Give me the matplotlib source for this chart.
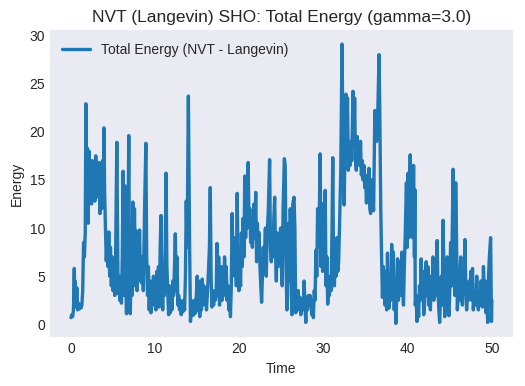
import matplotlib
matplotlib.use('Agg')
import matplotlib.pyplot as plt

# (time, energy)
tiempo = [
    0.0, 0.1, 0.2, 0.3, 0.4, 0.45, 0.5, 0.6, 0.7, 0.8, 0.9, 1.0, 1.1, 1.2, 1.3, 1.4, 1.5, 1.6, 1.7, 1.78,
    1.85, 1.95, 2.05, 2.15, 2.25, 2.35, 2.45, 2.55, 2.65, 2.75, 2.85, 2.95, 3.05, 3.15, 3.25, 3.35, 3.45,
    3.55, 3.65, 3.75, 3.85, 3.92, 4.0, 4.1, 4.2, 4.3, 4.4, 4.5, 4.6, 4.7, 4.8, 4.9, 5.0, 5.1, 5.2, 5.3,
    5.45, 5.55, 5.6, 5.7, 5.8, 5.9, 6.0, 6.1, 6.2, 6.3, 6.4, 6.5, 6.6, 6.7, 6.8, 6.87, 6.95, 7.05, 7.15,
    7.25, 7.35, 7.45, 7.55, 7.65, 7.75, 7.85, 7.95, 8.05, 8.15, 8.25, 8.4, 8.5, 8.6, 8.75, 8.9, 9.0, 9.1,
    9.2, 9.3, 9.4, 9.5, 9.6, 9.7, 9.8, 9.9, 10.0, 10.1, 10.2, 10.3, 10.4, 10.5, 10.6, 10.7, 10.8, 10.9,
    11.0, 11.1, 11.2, 11.3, 11.4, 11.5, 11.6, 11.7, 11.8, 11.9, 12.0, 12.1, 12.2, 12.3, 12.4, 12.5, 12.6,
    12.7, 12.8, 12.9, 13.0, 13.1, 13.2, 13.3, 13.4, 13.5, 13.6, 13.7, 13.8, 13.95, 14.05, 14.1, 14.2,
    14.3, 14.4, 14.5, 14.6, 14.7, 14.8, 14.9, 15.0, 15.1, 15.2, 15.3, 15.4, 15.5, 15.6, 15.7, 15.8, 15.9,
    16.0, 16.1, 16.2, 16.3, 16.45, 16.55, 16.65, 16.75, 16.85, 16.95, 17.05, 17.15, 17.25, 17.35, 17.45,
    17.55, 17.65, 17.75, 17.85, 17.95, 18.05, 18.15, 18.25, 18.35, 18.45, 18.55, 18.65, 18.75, 18.85,
    18.95, 19.05, 19.15, 19.25, 19.35, 19.45, 19.55, 19.65, 19.75, 19.85, 19.95, 20.05, 20.15, 20.25,
    20.35, 20.45, 20.55, 20.65, 20.75, 20.85, 20.95, 21.05, 21.15, 21.25, 21.35, 21.45, 21.55, 21.65,
    21.75, 21.85, 21.95, 22.05, 22.15, 22.25, 22.35, 22.45, 22.55, 22.65, 22.75, 22.85, 22.95, 23.1,
    23.2, 23.3, 23.45, 23.6, 23.7, 23.8, 23.9, 24.0, 24.1, 24.2, 24.3, 24.4, 24.5, 24.6, 24.7, 24.8, 24.9,
    25.0, 25.1, 25.2, 25.35, 25.45, 25.55, 25.65, 25.75, 25.85, 25.95, 26.05, 26.15, 26.25, 26.35, 26.5,
    26.6, 26.7, 26.8, 26.9, 27.0, 27.1, 27.2, 27.3, 27.4, 27.5, 27.6, 27.7, 27.8, 27.9, 28.0, 28.1, 28.2,
    28.3, 28.4, 28.5, 28.6, 28.7, 28.8, 28.9, 29.0, 29.1, 29.2, 29.3, 29.4, 29.5, 29.6, 29.7, 29.8, 29.9,
    30.0, 30.1, 30.2, 30.3, 30.4, 30.5, 30.6, 30.7, 30.8, 30.9, 31.0, 31.1, 31.2, 31.3, 31.4, 31.5, 31.6,
    31.7, 31.8, 31.9, 32.05, 32.2, 32.3, 32.35, 32.45, 32.55, 32.66, 32.75, 32.85, 32.95, 33.05, 33.15,
    33.25, 33.35, 33.5, 33.6, 33.7, 33.8, 33.9, 34.0, 34.1, 34.2, 34.3, 34.4, 34.5, 34.6, 34.7, 34.8,
    34.9, 35.0, 35.1, 35.2, 35.3, 35.4, 35.5, 35.6, 35.7, 35.8, 35.95, 36.1, 36.3, 36.45, 36.6, 36.7,
    36.8, 36.9, 37.0, 37.1, 37.2, 37.3, 37.4, 37.5, 37.6, 37.7, 37.8, 37.9, 38.0, 38.1, 38.2, 38.3, 38.4,
    38.5, 38.6, 38.7, 38.8, 38.9, 39.0, 39.1, 39.2, 39.3, 39.4, 39.5, 39.6, 39.7, 39.85, 39.95, 40.05,
    40.15, 40.3, 40.4, 40.5, 40.6, 40.7, 40.8, 40.85, 40.9, 41.0, 41.1, 41.2, 41.3, 41.4, 41.5, 41.6,
    41.7, 41.8, 41.9, 42.0, 42.1, 42.2, 42.3, 42.4, 42.5, 42.6, 42.7, 42.8, 42.9, 43.0, 43.1, 43.2, 43.3,
    43.4, 43.5, 43.6, 43.7, 43.8, 43.9, 44.0, 44.1, 44.2, 44.3, 44.4, 44.5, 44.6, 44.7, 44.8, 44.9, 45.0,
    45.1, 45.2, 45.3, 45.4, 45.5, 45.6, 45.7, 45.8, 45.9, 46.0, 46.1, 46.2, 46.3, 46.4, 46.5, 46.6, 46.7,
    46.8, 46.9, 47.0, 47.1, 47.2, 47.3, 47.4, 47.5, 47.6, 47.7, 47.8, 47.9, 48.0, 48.1, 48.2, 48.3, 48.4,
    48.5, 48.6, 48.7, 48.8, 48.9, 49.0, 49.1, 49.2, 49.3, 49.4, 49.5, 49.6, 49.7, 49.85, 49.9, 49.95, 50.0,
]

energia = [
    0.7, 1.0, 0.8, 1.5, 5.8, 2.0, 4.5, 1.8, 3.8, 1.5, 2.2, 1.6, 1.9, 1.7, 2.0, 3.5, 8.5, 7.0, 9.5, 22.9,
    12.0, 18.3, 10.5, 18.0, 13.0, 16.5, 12.5, 17.0, 14.0, 16.0, 12.8, 17.5, 13.2, 16.5, 14.5, 16.8, 11.5,
    15.0, 12.0, 17.0, 13.0, 20.4, 14.0, 10.0, 6.6, 9.0, 6.0, 9.6, 5.0, 8.0, 4.0, 7.0, 3.5, 5.5, 3.0, 6.5,
    18.9, 8.0, 3.2, 5.0, 2.5, 4.5, 2.2, 7.0, 15.9, 3.0, 14.4, 5.0, 1.1, 6.0, 12.0, 19.6, 6.0, 1.1, 5.5,
    3.0, 12.7, 4.0, 12.0, 5.0, 9.7, 3.5, 9.5, 4.5, 9.8, 5.0, 4.3, 7.0, 3.5, 12.0, 18.8, 7.0, 3.0,
    6.0, 1.5, 4.5, 1.2, 3.0, 2.5, 5.0, 2.0, 4.5, 1.5, 5.5, 2.5, 6.0, 1.8, 8.0, 11.3, 4.0, 1.5,
    5.0, 3.0, 8.0, 15.7, 6.0, 3.5, 1.0, 4.0, 1.2, 3.5, 1.5, 4.5, 3.0, 6.0, 9.4, 3.5, 7.0,
    2.0, 3.0, 1.5, 2.5, 1.0, 2.0, 1.3, 2.5, 1.5, 5.0, 12.8, 8.0, 23.7, 13.0, 8.0, 0.3,
    2.5, 0.9, 2.0, 1.0, 2.5, 1.2, 3.0, 5.0, 1.5, 4.5, 0.8, 3.5, 1.5, 4.7, 2.0, 4.0, 2.5,
    3.5, 1.5, 3.0, 4.8, 8.0, 14.2, 5.0, 1.8, 3.0, 2.0, 3.5, 2.5, 3.0, 8.4, 3.0,
    7.0, 2.0, 3.5, 6.0, 2.5, 5.0, 3.0, 7.0, 3.5, 6.0, 2.5, 4.0, 1.5, 2.5,
    0.8, 4.0, 11.5, 6.0, 9.0, 5.0, 7.5, 4.0, 13.6, 6.0, 3.5, 6.5, 4.0, 9.5,
    6.0, 11.0, 7.0, 15.4, 9.0, 13.0, 10.0, 16.8, 10.5, 12.0, 8.5, 10.0, 8.0, 10.5,
    12.5, 9.0, 13.7, 6.5, 10.5, 7.5, 9.5, 6.0, 4.0, 2.3, 5.0, 8.0, 6.0, 10.0,
    5.0, 9.0, 12.0, 17.1, 8.0, 6.5, 9.0, 7.0, 11.0, 13.2, 7.5, 4.5, 9.5, 6.0, 8.5, 7.0, 10.0,
    6.0, 4.0, 12.0, 17.2, 16.5, 6.3, 1.5, 3.0, 10.5, 4.5, 12.0, 8.0, 1.0, 12.5, 13.2,
    10.0, 1.2, 3.0, 1.5, 3.5, 1.8, 2.8, 1.0, 2.5, 1.5, 2.0, 4.5, 1.8, 0.2, 2.5, 1.5, 3.0,
    2.0, 3.0, 2.5, 1.0, 2.0, 0.7, 3.5, 2.5, 7.7, 5.0, 12.0, 8.0, 11.0, 17.7, 6.0, 12.5, 5.5,
    12.5, 8.0, 13.9, 4.0, 7.0, 2.1, 4.0, 3.0, 5.0, 3.5, 9.0, 17.3, 5.0, 4.0, 8.0, 5.0, 9.0,
    5.5, 6.5, 10.0, 16.0, 29.1, 20.0, 17.5, 12.4, 18.0, 23.9, 18.0, 23.5, 16.0, 18.0, 16.5,
    19.0, 17.0, 24.2, 18.5, 23.5, 17.0, 16.0, 19.5, 17.0, 18.5, 16.5, 19.0, 15.5, 17.0, 15.0, 16.5,
    14.2, 15.5, 12.6, 14.5, 13.0, 16.2, 12.0, 11.5, 15.0, 14.0, 11.8, 22.2, 19.0, 22.0, 28.0, 21.0,
    12.0, 7.0, 2.8, 6.0, 4.5, 2.0, 5.5, 1.5, 7.4, 3.0, 1.7, 5.0, 2.5, 8.3, 4.0, 7.5, 1.5,
    4.0, 0.1, 3.0, 6.8, 2.5, 5.0, 6.5, 3.0, 7.5, 4.0, 2.0, 6.0, 9.0, 14.7, 8.0, 15.7,
    9.0, 17.6, 10.0, 16.4, 9.0, 16.5, 7.0, 14.0, 2.0, 3.0, 0.3, 2.5, 0.8, 4.0, 2.5, 6.8,
    3.0, 5.5, 1.0, 2.0, 4.5, 6.5, 3.0, 6.0, 2.0, 4.5, 1.5, 5.0, 3.0, 7.0, 2.5, 5.5, 3.0,
    6.0, 8.7, 3.5, 1.5, 0.2, 3.0, 5.0, 2.0, 10.8, 6.0, 0.8, 2.5, 5.5, 7.0, 2.0, 0.9, 3.5,
    8.5, 4.0, 10.0, 16.1, 6.0, 3.0, 14.7, 9.0, 1.5, 3.5, 2.5, 5.0, 7.0, 3.0, 2.0, 4.5, 5.0,
    8.8, 4.0, 1.5, 3.5, 2.5, 4.5, 3.0, 5.5, 2.5, 5.8, 1.5, 3.5, 2.5, 2.0, 5.0, 2.5, 1.5,
    3.0, 2.0, 4.5, 2.5, 1.8, 6.0, 3.0, 4.5, 1.2, 3.0, 0.2, 5.0, 7.0, 9.0, 4.0, 0.3, 2.5,
]

plt.style.use('seaborn-v0_8-dark')
plt.rcParams['font.family'] = ['Liberation Sans', 'DejaVu Sans']

fig, ax = plt.subplots(figsize=(5.25, 3.86), dpi=100)
fig.subplots_adjust(left=0.095, right=0.977, top=0.922, bottom=0.126)

ax.plot(tiempo, energia, color='#1f77b4', linewidth=2.4, label='Total Energy (NVT - Langevin)')
ax.set_title('NVT (Langevin) SHO: Total Energy (gamma=3.0)', fontsize=12.5)
ax.set_xlabel('Time', fontsize=10)
ax.set_ylabel('Energy', fontsize=10)
ax.tick_params(labelsize=10)
ax.legend(loc='upper left', fontsize=10)

fig.savefig('out.png')
